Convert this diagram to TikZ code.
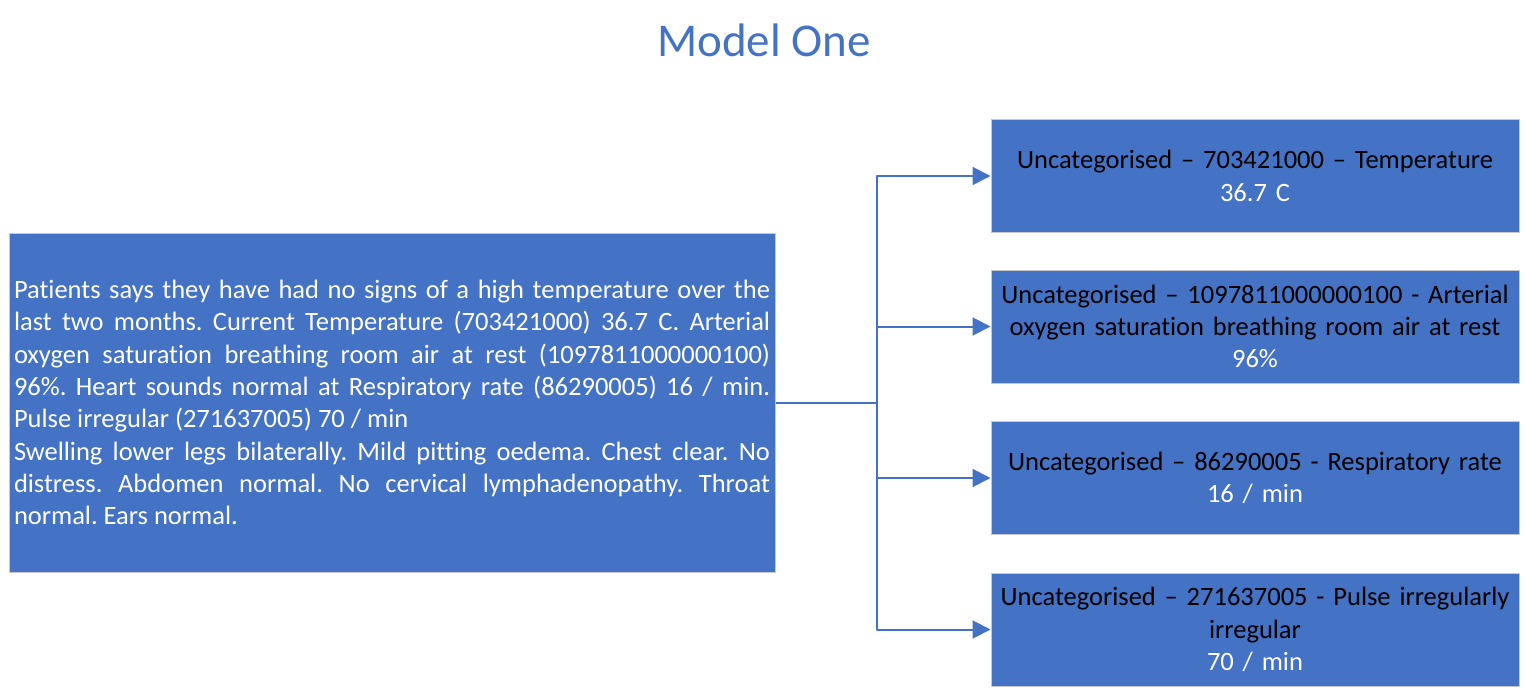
\documentclass[tikz,border=0pt]{standalone}
\usepackage{fontspec}
\setmainfont{Carlito}[Ligatures={NoCommon}]
\frenchspacing
\definecolor{modelfill}{HTML}{4472C4}
\definecolor{modeledge}{HTML}{C8C8C8}
\definecolor{modelink}{HTML}{000000}
\usetikzlibrary{arrows.meta}

\begin{document}
\begin{tikzpicture}[
  x=1pt,
  y=-1pt,
  line join=round,
  headline/.style={text=modelfill,font=\fontsize{47}{56}\selectfont},
  notebox/.style={rectangle,draw=modeledge,line width=1pt,fill=modelfill,inner sep=0pt,minimum width=766pt,minimum height=339pt,text width=756pt,align=justify,text=white,font=\fontsize{26.5}{32.3}\selectfont},
  codebox/.style={rectangle,draw=modeledge,line width=1pt,fill=modelfill,inner sep=0pt,minimum width=528pt,minimum height=113pt,text width=520pt,align=center,text=white,font=\fontsize{26.5}{32.3}\selectfont},
  branch/.style={draw=modelfill,line width=2pt},
  feed/.style={branch,-{Triangle[length=18pt,width=18pt]}}
]
  \useasboundingbox (0,0) rectangle (1525,690);

  \node[headline,anchor=base] (title) at (764,57) {Model One};

  % free-text observation
  \node[notebox] (note) at (392,402.5) {Patients says they have had no signs of a high temperature over the\linebreak
    last two months. Current Temperature (703421000) 36.7 C. Arterial\linebreak
    oxygen saturation breathing room air at rest (1097811000000100)\linebreak
    96\%. Heart sounds normal at Respiratory rate (86290005) 16 / min.\linebreak
    Pulse irregular (271637005) 70 / min\par
    Swelling lower legs bilaterally. Mild pitting oedema. Chest clear. No\linebreak
    distress. Abdomen normal. No cervical lymphadenopathy. Throat\linebreak
    normal. Ears normal.};

  % coded results
  \node[codebox] (temp) at (1255,176) {\textcolor{modelink}{Uncategorised – 703421000 – Temperature}\\36.7 C};
  \node[codebox] (sat) at (1255,326.5) {\textcolor{modelink}{Uncategorised – 1097811000000100 - Arterial}\\
    \textcolor{modelink}{oxygen saturation breathing room air at rest}\\96\%};
  \node[codebox] (resp) at (1255,478) {\textcolor{modelink}{Uncategorised – 86290005 - Respiratory rate}\\16 / min};
  \node[codebox] (pulse) at (1255,629.5) {\textcolor{modelink}{Uncategorised – 271637005 - Pulse irregularly}\\
    \textcolor{modelink}{irregular}\\70 / min};

  \coordinate (split) at (877,402.5);
  \draw[branch] (note.east) -- (split);
  \draw[feed] (split) |- (temp.west);
  \draw[feed] (split) |- (sat.west);
  \draw[feed] (split) |- (resp.west);
  \draw[feed] (split) |- (pulse.west);
\end{tikzpicture}
\end{document}
